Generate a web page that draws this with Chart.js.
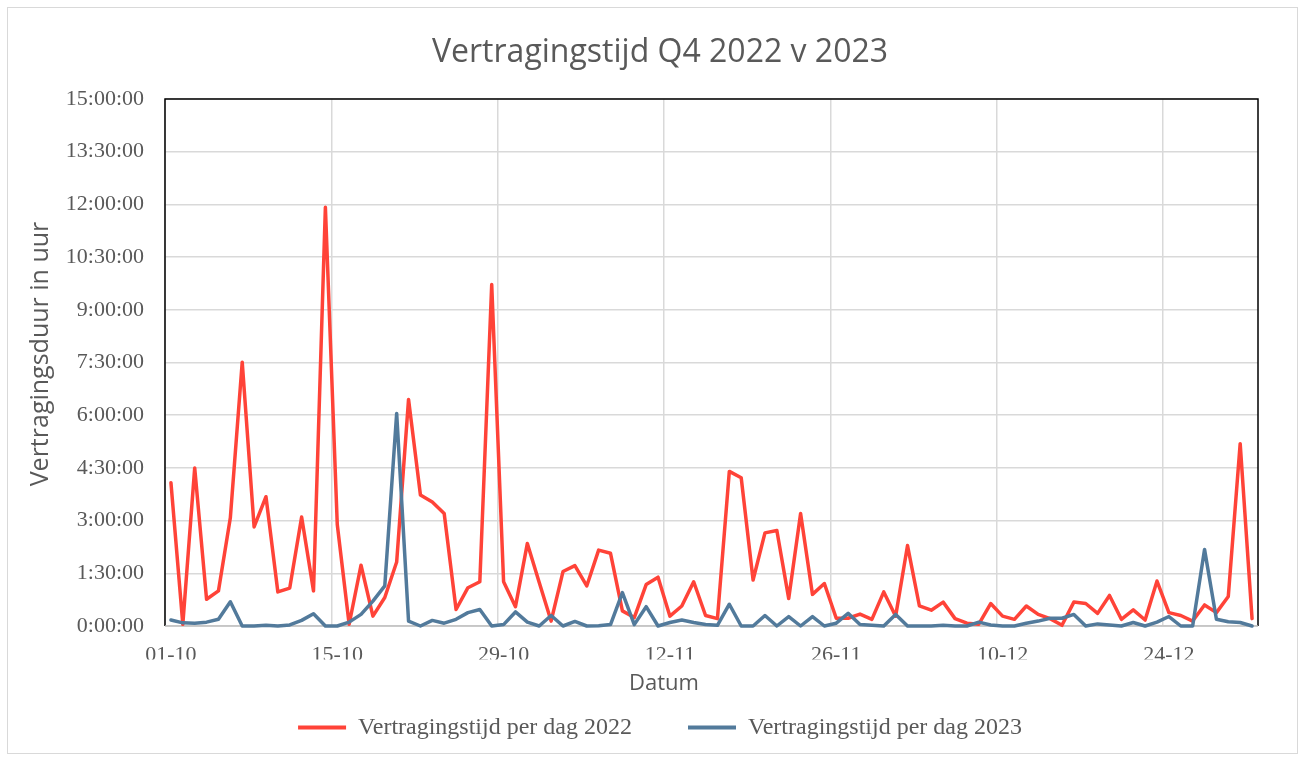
<!DOCTYPE html>
<html><head><meta charset="utf-8">
<script src="https://cdn.jsdelivr.net/npm/chart.js@4.4.1/dist/chart.umd.min.js"></script>
<style>
html,body{margin:0;padding:0;background:#fff;}
#frame{position:absolute;left:7px;top:7px;width:1289px;height:745px;border:1px solid #d9d9d9;}
#wrap{position:absolute;left:0;top:0;width:1304px;height:761px;}
</style></head><body>
<div id="frame"></div>
<div id="wrap"><canvas id="c" width="1304" height="761"></canvas></div>
<script>
const chartTitle = 'Vertragingstijd Q4 2022 v 2023';
const xAxisTitle = 'Datum';
const yAxisTitle = 'Vertragingsduur in uur';
const seriesNames = ['Vertragingstijd per dag 2022', 'Vertragingstijd per dag 2023'];

const categories = [
 '01-10','02-10','03-10','04-10','05-10','06-10','07-10','08-10','09-10','10-10',
 '11-10','12-10','13-10','14-10','15-10','16-10','17-10','18-10','19-10','20-10',
 '21-10','22-10','23-10','24-10','25-10','26-10','27-10','28-10','29-10','30-10','31-10',
 '01-11','02-11','03-11','04-11','05-11','06-11','07-11','08-11','09-11','10-11',
 '11-11','12-11','13-11','14-11','15-11','16-11','17-11','18-11','19-11','20-11',
 '21-11','22-11','23-11','24-11','25-11','26-11','27-11','28-11','29-11','30-11',
 '01-12','02-12','03-12','04-12','05-12','06-12','07-12','08-12','09-12','10-12',
 '11-12','12-12','13-12','14-12','15-12','16-12','17-12','18-12','19-12','20-12',
 '21-12','22-12','23-12','24-12','25-12','26-12','27-12','28-12','29-12','30-12','31-12'
];
const xTickLabels = ['01-10','15-10','29-10','12-11','26-11','10-12','24-12'];
const yTickLabels = ['0:00:00','1:30:00','3:00:00','4:30:00','6:00:00','7:30:00','9:00:00','10:30:00','12:00:00','13:30:00','15:00:00'];

// values in hours
const delay2022 = [
 4.08,0.05,4.50,0.76,1.00,3.08,7.51,2.82,3.68,0.97,
 1.08,3.10,1.00,11.92,2.89,0.05,1.73,0.28,0.81,1.82,
 6.45,3.73,3.53,3.20,0.47,1.09,1.26,9.72,1.26,0.55,2.35,
 1.24,0.14,1.55,1.72,1.14,2.16,2.07,0.43,0.24,1.18,
 1.39,0.28,0.57,1.26,0.30,0.21,4.40,4.22,1.31,2.65,
 2.72,0.78,3.20,0.90,1.21,0.22,0.22,0.34,0.19,0.97,
 0.28,2.29,0.57,0.45,0.68,0.21,0.08,0.05,0.64,0.28,
 0.19,0.57,0.33,0.21,0.02,0.68,0.64,0.36,0.87,0.19,
 0.46,0.17,1.28,0.38,0.30,0.14,0.60,0.38,0.84,5.19,0.21
];
const delay2023 = [
 0.17,0.09,0.08,0.11,0.19,0.69,0.00,0.00,0.02,0.00,
 0.03,0.16,0.35,0.00,0.00,0.11,0.33,0.71,1.14,6.05,
 0.14,0.00,0.16,0.08,0.19,0.38,0.47,0.00,0.04,0.40,0.11,
 0.00,0.30,0.00,0.13,0.00,0.01,0.04,0.95,0.04,0.55,
 0.00,0.10,0.17,0.10,0.04,0.02,0.62,0.00,0.00,0.30,
 0.00,0.27,0.00,0.27,0.00,0.08,0.36,0.04,0.02,0.00,
 0.33,0.00,0.00,0.00,0.02,0.00,0.00,0.11,0.03,0.00,
 0.00,0.08,0.14,0.22,0.22,0.33,0.00,0.06,0.03,0.00,
 0.10,0.00,0.11,0.27,0.00,0.00,2.18,0.19,0.12,0.10,0.00
];

const RED = '#FF4338';
const BLUE = '#527A9B';
const TEXT = '#595959';
const GRID = '#d9d9d9';

const framePlugin = {
  id: 'framePlugin',
  beforeDatasetsDraw(chart) {
    const {ctx, chartArea: a} = chart;
    ctx.save();
    ctx.lineWidth = 1.5;
    ctx.strokeStyle = '#000';
    ctx.beginPath();
    ctx.moveTo(a.left, a.bottom); ctx.lineTo(a.left, a.top);
    ctx.lineTo(a.right, a.top); ctx.lineTo(a.right, a.bottom);
    ctx.stroke();
    ctx.strokeStyle = '#bfbfbf';
    ctx.beginPath();
    ctx.moveTo(a.left, a.bottom); ctx.lineTo(a.right, a.bottom);
    ctx.stroke();
    ctx.restore();
  },
  afterDraw(chart) {
    const {ctx} = chart;
    ctx.save();
    ctx.fillStyle = TEXT;
    ctx.textAlign = 'center';
    ctx.textBaseline = 'middle';
    ctx.font = '22px "Open Sans"';
    ctx.fillText(xAxisTitle, 664, 684);
    ctx.font = '25px "Open Sans"';
    ctx.translate(41, 354);
    ctx.rotate(-Math.PI / 2);
    ctx.fillText(yAxisTitle, 0, 0);
    ctx.restore();
  }
};

new Chart(document.getElementById('c'), {
  type: 'line',
  data: {
    labels: categories,
    datasets: [
      { label: seriesNames[0], data: delay2022, borderColor: RED, backgroundColor: RED,
        borderWidth: 3.5, pointRadius: 0, tension: 0, borderJoinStyle: 'round', borderCapStyle: 'round', clip: false, order: 1 },
      { label: seriesNames[1], data: delay2023, borderColor: BLUE, backgroundColor: BLUE,
        borderWidth: 3.5, pointRadius: 0, tension: 0, borderJoinStyle: 'round', borderCapStyle: 'round', clip: false, order: 0 }
    ]
  },
  options: {
    responsive: false,
    animation: false,
    devicePixelRatio: 1,
    layout: { padding: { left: 62, right: 46, top: 0, bottom: 11.5 } },
    plugins: {
      tooltip: { enabled: false },
      title: {
        display: true, text: chartTitle, color: TEXT,
        font: { family: 'Open Sans', size: 32, weight: 'normal' },
        padding: { top: 34, bottom: 26.6 }
      },
      legend: {
        position: 'bottom',
        labels: {
          font: { family: 'Liberation Serif', size: 24 },
          color: TEXT, boxWidth: 48, boxHeight: 4, padding: 56,
          sort: (a, b) => a.datasetIndex - b.datasetIndex,
          generateLabels(chart) {
            return chart.data.datasets.map((d, i) => ({
              text: d.label, fillStyle: d.borderColor, strokeStyle: d.borderColor,
              lineWidth: 0, hidden: false, datasetIndex: i, fontColor: TEXT
            }));
          }
        }
      }
    },
    scales: {
      x: {
        type: 'category',
        offset: true,
        border: { display: false },
        grid: {
          offset: true, drawTicks: false, lineWidth: 1.5,
          color: c => xTickLabels.includes(categories[c.index]) ? GRID : 'rgba(0,0,0,0)'
        },
        ticks: {
          autoSkip: false, maxRotation: 0, minRotation: 0, padding: 16,
          color: TEXT, font: { family: 'Liberation Serif', size: 22 },
          callback: (v, i) => xTickLabels.includes(categories[i]) ? categories[i] : ''
        },
        afterFit: s => { s.height = 33.5; }
      },
      y: {
        min: 0, max: 15,
        border: { display: false },
        grid: { color: GRID, lineWidth: 1.5, drawTicks: false },
        ticks: {
          stepSize: 1.5, padding: 21, color: TEXT,
          font: { family: 'Liberation Serif', size: 22 },
          callback: (v, i) => yTickLabels[i]
        },
        afterFit: s => { s.width = 103; }
      }
    }
  },
  plugins: [framePlugin]
});
</script>
</body></html>
